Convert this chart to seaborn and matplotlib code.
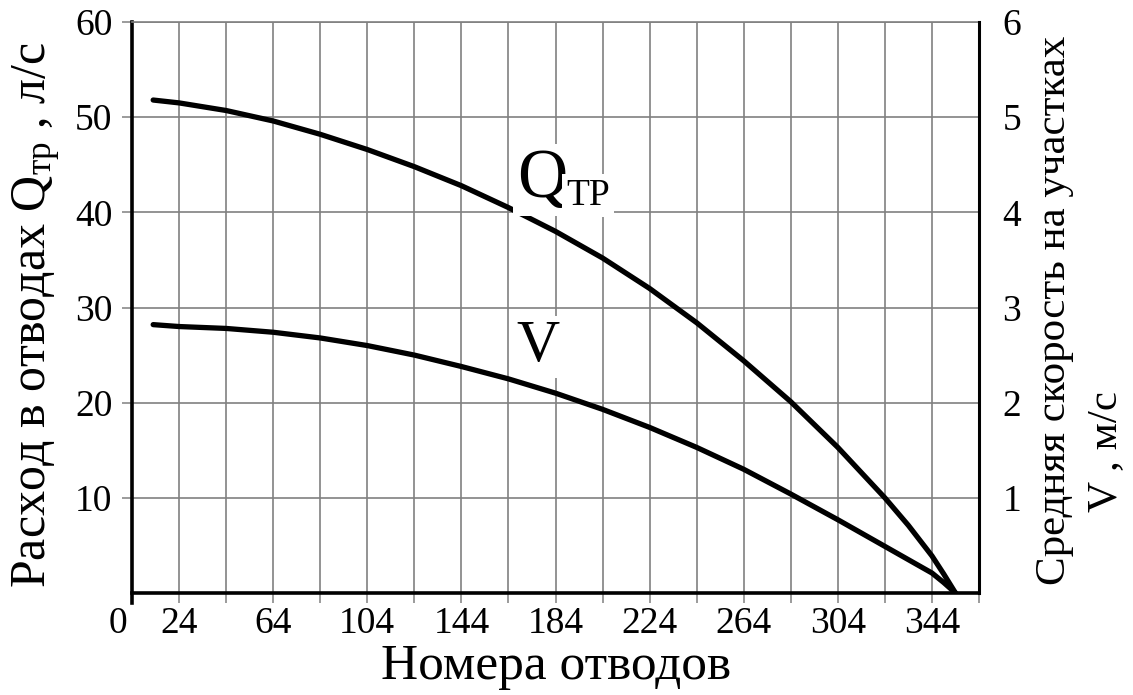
import matplotlib
matplotlib.use("Agg")
import matplotlib.pyplot as plt
import matplotlib.transforms as mtransforms
import seaborn as sns
import pandas as pd

# Branch numbers along the pipeline and the values at each branch
branch_no = [13, 24, 44, 64, 84, 104, 124, 144, 164, 184, 204, 224, 244, 264, 284, 304, 324, 334, 344, 349, 354]
flow_q = [51.8, 51.5, 50.7, 49.6, 48.2, 46.6, 44.8, 42.8, 40.5, 38.0, 35.2, 32.0, 28.4, 24.4, 20.1, 15.3, 10.0, 7.1, 3.9, 2.0, 0.0]
speed_v = [2.82, 2.80, 2.78, 2.74, 2.68, 2.60, 2.50, 2.38, 2.25, 2.10, 1.93, 1.74, 1.53, 1.30, 1.04, 0.77, 0.49, 0.35, 0.21, 0.11, 0.0]

x_ticks = [4 + 20 * k for k in range(19)]
x_tick_labels = ["0"] + [str(t) if k % 2 == 1 else "" for k, t in enumerate(x_ticks)][1:]
q_ticks = [10, 20, 30, 40, 50, 60]
v_ticks = [1, 2, 3, 4, 5, 6]

df = pd.DataFrame({"n": branch_no, "q": flow_q, "v": speed_v})

sns.set_theme(style="white")
plt.rcParams["font.family"] = ["Liberation Serif", "DejaVu Serif"]
plt.rcParams["mathtext.fontset"] = "custom"
plt.rcParams["mathtext.rm"] = "Liberation Serif"
plt.rcParams["mathtext.it"] = "Liberation Serif:italic"
plt.rcParams["text.color"] = "black"
plt.rcParams["xtick.labelcolor"] = "black"
plt.rcParams["ytick.labelcolor"] = "black"
plt.rcParams["axes.labelcolor"] = "black"

fig = plt.figure(figsize=(11.33, 6.95), dpi=100)
ax = fig.add_axes([132 / 1133, 1 - 593 / 695, (979 - 132) / 1133, (593 - 22) / 695])
ax2 = ax.twinx()

grid_c = "#808080"
ax.set_xlim(4, 364)
ax.set_ylim(0, 60)
ax2.set_ylim(0, 6)

ax.set_xticks(x_ticks)
ax.set_xticklabels(x_tick_labels, fontsize=27)
ax.set_yticks(q_ticks)
ax.set_yticklabels([str(t) for t in q_ticks], fontsize=27)
ax2.set_yticks(v_ticks)
ax2.set_yticklabels([str(t) for t in v_ticks], fontsize=27)

ax.grid(True, color=grid_c, lw=1.2)
ax.tick_params(axis="x", direction="out", length=7, width=1.1, color=grid_c, pad=3, bottom=True)
ax.tick_params(axis="y", direction="out", length=7, width=1.1, color=grid_c, pad=7, left=True)
ax2.tick_params(axis="y", length=0, pad=17)

# shift the origin label to the left of the corner
off = mtransforms.ScaledTranslation(-14 / 100, 0, fig.dpi_scale_trans)
first = ax.get_xticklabels()[0]
first.set_transform(first.get_transform() + off)

for a in (ax, ax2):
    for s in a.spines.values():
        s.set_visible(False)
ax.spines["left"].set_visible(True)
ax.spines["left"].set_color("black")
ax.spines["left"].set_linewidth(2.6)
ax.spines["left"].set_bounds(-1.0, 60)
ax.spines["bottom"].set_visible(True)
ax.spines["bottom"].set_color("black")
ax.spines["bottom"].set_linewidth(2.6)
ax.spines["top"].set_visible(True)
ax.spines["top"].set_color(grid_c)
ax.spines["top"].set_linewidth(1.2)
ax2.spines["right"].set_visible(True)
ax2.spines["right"].set_color("black")
ax2.spines["right"].set_linewidth(2.2)

sns.lineplot(data=df, x="n", y="q", ax=ax, color="black", lw=3.8,
             solid_capstyle="round", solid_joinstyle="round", zorder=3)
sns.lineplot(data=df, x="n", y="v", ax=ax2, color="black", lw=3.8,
             solid_capstyle="round", solid_joinstyle="round", zorder=3)
ax.set_xlim(4, 364)
ax.set_ylim(0, 60)
ax2.set_ylim(0, 6)
ax2.set_ylabel("")

ax.set_xlabel("Номера отводов", fontsize=37)
ax.xaxis.label.set_va("center")
ax.xaxis.set_label_coords(0.501, -(667 - 593) / 571)
ax.set_ylabel("Расход в отводах Q$_{\\mathrm{тр}}$ , л/с", fontsize=36)
ax.yaxis.label.set_va("center")
ax.yaxis.set_label_coords((37 - 132) / 847, (593 - 315) / 571)

fig.text(1055 / 1133, 1 - 310 / 695, "Средняя скорость на участках", rotation=90,
         fontsize=31, ha="center", va="center")
fig.text(1106 / 1133, 1 - 452 / 695, "V , м/с", rotation=90,
         fontsize=31, ha="center", va="center")

box = dict(facecolor="white", edgecolor="none", pad=3)
ax.text(167.5, 41.6, "Q", fontsize=50, ha="left", va="baseline", bbox=box, zorder=5)
ax.text(188.5, 40.8, "TP", fontsize=27, ha="left", va="baseline", bbox=box, zorder=5)
ax.text(167.5, 24.4, "V", fontsize=43, ha="left", va="baseline", bbox=box, zorder=5)

fig.savefig("out.png", dpi=100)
